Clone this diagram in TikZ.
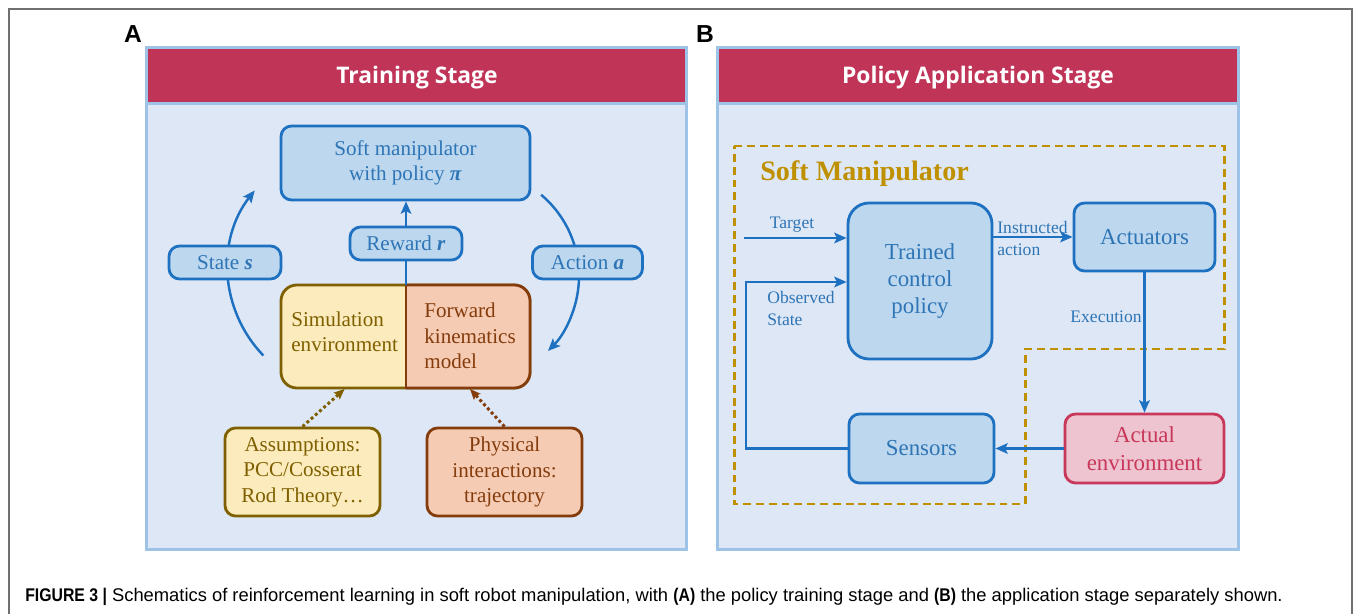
\documentclass[tikz,border=0pt]{standalone}
\usepackage{fontspec}
\usepackage{graphicx}
\setmainfont{Liberation Serif}
\setsansfont{Liberation Sans}
\newfontfamily\headfont{Open Sans}
\usetikzlibrary{arrows.meta}

\definecolor{headred}{HTML}{C03458}
\definecolor{panelfill}{HTML}{DEE7F5}
\definecolor{panelline}{HTML}{9DC3E6}
\definecolor{blueline}{HTML}{1E70C0}
\definecolor{bluefill}{HTML}{BDD7EE}
\definecolor{bluetext}{HTML}{2E75B6}
\definecolor{simfill}{HTML}{FBEBBD}
\definecolor{simline}{HTML}{7F6000}
\definecolor{fwdfill}{HTML}{F6CBB4}
\definecolor{fwdline}{HTML}{843C0C}
\definecolor{gold}{HTML}{BF9000}
\definecolor{envfill}{HTML}{EDC4D0}
\definecolor{envline}{HTML}{C8385A}
\definecolor{framegray}{HTML}{707070}

\def\px{0.02cm}
\def\bi#1{\textbf{\textit{#1}}}
\def\cb#1{\scalebox{0.86}[1]{\textbf{#1}}}

\tikzset{
  wh/.style 2 args={minimum width=#1*\px, minimum height=#2*\px},
  boxbase/.style={line width=1.6pt, rounded corners=6pt, align=center, inner sep=0pt},
  bluebox/.style={boxbase, draw=blueline, fill=bluefill, text=bluetext},
  simbox/.style={boxbase, draw=simline, fill=simfill, text=simline},
  fwdbox/.style={boxbase, draw=fwdline, fill=fwdfill, text=fwdline},
  envbox/.style={boxbase, draw=envline, fill=envfill, text=envline},
  afont/.style={font=\fontsize{12}{14.4}\selectfont},
  bfont/.style={font=\fontsize{13}{15.6}\selectfont},
  lfont/.style={font=\fontsize{10}{12.2}\selectfont, text=bluetext, inner sep=0pt},
  flow/.style={blueline, line width=1.4pt, -{Stealth[length=7pt,width=6pt,inset=1.5pt]}},
  dotflow/.style={line width=1.7pt, dash pattern=on 1.7pt off 1.5pt, -{Stealth[length=6pt,width=5pt,inset=1pt]}},
  headtitle/.style={font=\headfont\bfseries\fontsize{13}{15}\selectfont, text=white},
  panellabel/.style={font=\sffamily\bfseries\fontsize{14}{16}\selectfont}
}

\begin{document}
\begin{tikzpicture}[x=0.02cm, y=-0.02cm]
    \useasboundingbox (0,0) rectangle (1355,614);
    \draw [framegray, line width=0.8pt] (9,614) -- (9,9) -- (1352,9) -- (1352,614);

    % panel A
    \fill [panelline] (145,46) rectangle (688,551);
    \fill [headred] (148,49) rectangle (685,102);
    \fill [panelfill] (148,105) rectangle (685,548);
    \node [panellabel] (labA) at (133,34) {A};
    \node [headtitle] (titleA) at (417,78) {Training Stage};

    \draw [flow] (354,268) ++(136:126) arc [start angle=136, end angle=218, radius=126];
    \draw [flow] (473,276) ++(-50:106) arc [start angle=-50, end angle=45, radius=106];

    \node [bluebox, afont, wh={249}{74}] (soft) at (405.5,163) {Soft manipulator\\with policy \bi{π}};
    \node [bluebox, afont, wh={112}{33}] (reward) at (406,243.5) {Reward \bi{r}};
    \node [bluebox, afont, wh={112}{33}] (state) at (225,262.5) {State \bi{s}};
    \node [bluebox, afont, wh={110}{33}] (action) at (587.5,262.5) {Action \bi{a}};

    % simulation / forward kinematics block
    \coordinate (midtop) at (406,285);
    \coordinate (midbot) at (406,389);
    \filldraw [fill=simfill, draw=simline, line width=1.6pt, rounded corners=9pt] (281,285) rectangle (530,388);
    \begin{scope}
        \clip (406,270) rectangle (550,400);
        \filldraw [fill=fwdfill, draw=fwdline, line width=1.6pt, rounded corners=9pt] (281,285) rectangle (530,388);
    \end{scope}
    \draw [fwdline, line width=1.6pt] (midtop) -- (midbot);
    \node [afont, text=simline, align=left, anchor=west, inner sep=0pt] (sim) at (291,331.5) {Simulation\\environment};
    \node [afont, text=fwdline, align=left, anchor=west, inner sep=0pt] (fwd) at (424,336) {Forward\\kinematics\\model};

    \node [simbox, afont, wh={155}{88}] (assume) at (302.5,472) {Assumptions:\\PCC/Cosserat\\Rod Theory…};
    \node [fwdbox, afont, wh={155}{88}] (phys) at (504.5,472) {Physical\\interactions:\\trajectory};

    \draw [blueline, line width=1.4pt] (midtop) -- (reward.south);
    \draw [flow] (reward.north) -- (soft.south -| reward.north);
    \draw [dotflow, simline] (assume.north) -- (sim.center |- midbot);
    \draw [dotflow, fwdline] (phys.north) -- (fwd.center |- midbot);

    % panel B
    \fill [panelline] (716,46) rectangle (1240,551);
    \fill [headred] (719,49) rectangle (1237,102);
    \fill [panelfill] (719,105) rectangle (1237,548);
    \node [panellabel] (labB) at (705,34) {B};
    \node [headtitle] (titleB) at (978,78) {Policy Application Stage};

    \draw [gold, line width=1.7pt, dash pattern=on 4.5pt off 2.8pt]
        (734,146) -- (1224,146) -- (1224,349) -- (1025,349) -- (1025,504) -- (734,504) -- cycle;
    \node [anchor=west, inner sep=0pt, text=gold, font=\bfseries\fontsize{16}{19}\selectfont] (softman) at (760,174) {Soft Manipulator};

    \node [bluebox, bfont, rounded corners=12pt, wh={144}{156}] (trained) at (920,281) {Trained\\control\\policy};
    \node [bluebox, bfont, wh={141}{68}] (act) at (1144.5,237) {Actuators};
    \node [bluebox, bfont, wh={145}{69}] (sens) at (921.5,448.5) {Sensors};
    \node [envbox, bfont, wh={159}{69}] (env) at (1144.5,448.5) {Actual\\environment};

    \coordinate (tgt) at (744,238);
    \coordinate (obs) at (746,282);
    \draw [flow] (tgt) -- (tgt -| trained.west);
    \draw [flow] (sens.west) -| (obs) -- (obs -| trained.west);
    \draw [flow] (act.west -| trained.east) -- (act.west);
    \draw [flow] (act.south) -- (env.north);
    \draw [flow] (env.west) -- (sens.east);

    \node [lfont] (ltarget) at (792,225) {Target};
    \node [lfont, align=left, anchor=west] (lobs) at (767,308.5) {Observed\\State};
    \node [lfont, align=left, anchor=west] (linstr) at (997,238.5) {Instructed\\action};
    \node [lfont, anchor=east] (lexec) at (1142,317) {Execution};

    \node [anchor=west, inner sep=0pt, font=\sffamily\fontsize{10.45}{12}\selectfont] (caption) at (25,597)
        {\cb{FIGURE 3 |} Schematics of reinforcement learning in soft robot manipulation, with \cb{(A)} the policy training stage and \cb{(B)} the application stage separately shown.};
\end{tikzpicture}
\end{document}
